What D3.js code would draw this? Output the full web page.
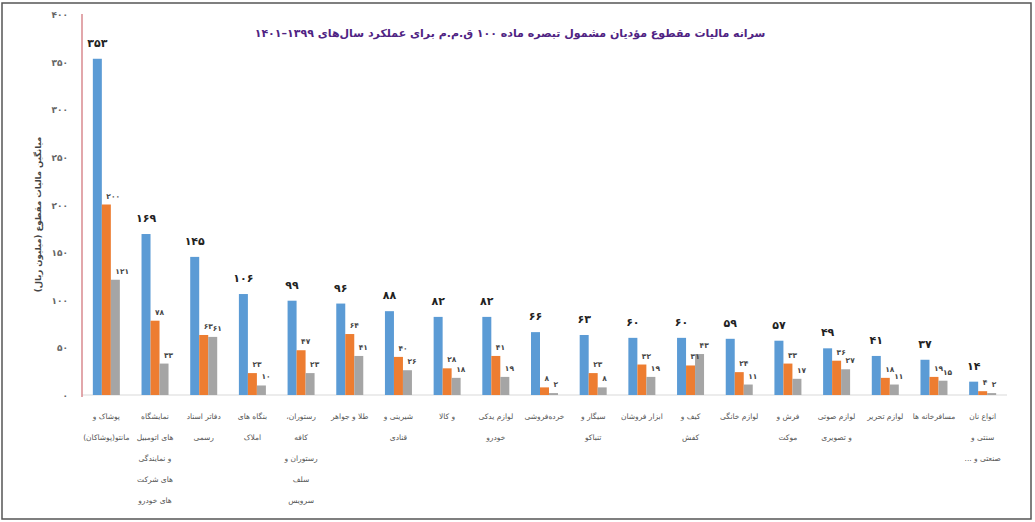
<!DOCTYPE html>
<html>
<head>
<meta charset="utf-8">
<script src="https://cdn.jsdelivr.net/npm/d3@7"></script>
<style>
  body { margin: 0; background: #fff; }
  svg text { font-family: "DejaVu Sans", sans-serif; }
</style>
</head>
<body>
<svg id="chart"></svg>
<script>
// Categories (multi-line labels split by |)
const categories = [
  "پوشاک و|مانتو(پوشاکان)",
  "نمایشگاه|های اتومبیل|و نمایندگی|های شرکت|های خودرو",
  "دفاتر اسناد|رسمی",
  "بنگاه های|املاک",
  "رستوران،|کافه|رستوران و|سلف|سرویس",
  "طلا و جواهر",
  "شیرینی و|قنادی",
  "و کالا",
  "لوازم یدکی|خودرو",
  "خرده‌فروشی",
  "سیگار و|تنباکو",
  "ابزار فروشان",
  "کیف و|کفش",
  "لوازم خانگی",
  "فرش و|موکت",
  "لوازم صوتی|و تصویری",
  "لوازم تحریر",
  "مسافرخانه ها",
  "انواع نان|سنتی و|صنعتی و ..."
];
const series1 = [353, 169, 145, 106, 99, 96, 88, 82, 82, 66, 63, 60, 60, 59, 57, 49, 41, 37, 14];
const series2 = [200, 78, 63, 23, 47, 64, 40, 28, 41, 8, 23, 32, 31, 24, 33, 36, 18, 19, 4];
const series3 = [121, 33, 61, 10, 23, 41, 26, 18, 19, 2, 8, 19, 43, 11, 17, 27, 11, 15, 2];
const yTicks = [0, 50, 100, 150, 200, 250, 300, 350, 400];
const seriesColors = ["#5b9bd5", "#ed7d31", "#a5a5a5"];

const titleText = "سرانه مالیات مقطوع مؤدیان مشمول تبصره ماده ۱۰۰ ق.م.م برای عملکرد سال‌های ۱۳۹۹–۱۴۰۱";
const yTitle = "میانگین مالیات مقطوع (میلیون ریال)";

const fa = n => String(n).replace(/\d/g, d => "۰۱۲۳۴۵۶۷۸۹"[d]);

const W = 1035, H = 522;
const svg = d3.select("#chart").attr("width", W).attr("height", H);

// outer frame
svg.append("rect")
  .attr("x", 2).attr("y", 3).attr("width", W - 6).attr("height", H - 6)
  .attr("fill", "#fff").attr("stroke", "#555").attr("stroke-width", 1.5);

const x0 = d3.scaleBand().domain(d3.range(categories.length)).range([82, 1007]);
const x1 = d3.scaleBand().domain([0, 1, 2]).range([0, 27]);
const y = d3.scaleLinear().domain([0, 400]).range([395, 14]);

// title
svg.append("text")
  .attr("x", 510).attr("y", 37)
  .attr("text-anchor", "middle")
  .attr("direction", "rtl")
  .attr("font-size", 11).attr("font-weight", "bold")
  .attr("fill", "#4f2383")
  .text(titleText);

// y ticks
svg.append("g").selectAll("text").data(yTicks).join("text")
  .attr("x", 68).attr("y", d => y(d) + 4)
  .attr("text-anchor", "end")
  .attr("font-size", 9).attr("font-weight", "bold")
  .attr("fill", "#666")
  .text(d => fa(d));

// y title
svg.append("text")
  .attr("transform", `translate(41,${y(200) + 10}) rotate(-90)`)
  .attr("text-anchor", "middle")
  .attr("direction", "rtl")
  .attr("font-size", 8.5).attr("font-weight", "bold")
  .attr("fill", "#444")
  .text(yTitle);

// baseline
svg.append("line")
  .attr("x1", 82).attr("x2", 1007).attr("y1", y(0)).attr("y2", y(0))
  .attr("stroke", "#d9d9d9");

// bars
const data = categories.map((c, i) => ({ i, vals: [series1[i], series2[i], series3[i]] }));
const groups = svg.append("g").selectAll("g").data(data).join("g")
  .attr("transform", d => `translate(${x0(d.i) + (x0.bandwidth() - 27) / 2},0)`);

groups.selectAll("rect").data(d => d.vals.map((v, k) => ({ v, k }))).join("rect")
  .attr("x", d => x1(d.k)).attr("width", x1.bandwidth())
  .attr("y", d => y(d.v)).attr("height", d => y(0) - y(d.v))
  .attr("fill", d => seriesColors[d.k]);

// blue value labels
groups.append("text")
  .attr("x", x1(0) + x1.bandwidth() / 2)
  .attr("y", d => y(d.vals[0]) - 12)
  .attr("text-anchor", "middle")
  .attr("font-size", 11).attr("font-weight", "bold")
  .attr("fill", "#222")
  .text(d => fa(d.vals[0]));

// orange / gray value labels
groups.selectAll("text.small").data(d => d.vals.slice(1).map((v, j) => ({ v, k: j + 1 }))).join("text")
  .attr("class", "small")
  .attr("x", d => x1(d.k) + x1.bandwidth() / 2)
  .attr("y", d => y(d.v) - 6)
  .attr("font-size", 7.5).attr("font-weight", "bold")
  .attr("fill", "#444")
  .text(d => fa(d.v));

// y axis line
svg.append("line")
  .attr("x1", 82).attr("x2", 82).attr("y1", 14).attr("y2", 397)
  .attr("stroke", "#d98a8f").attr("stroke-width", 1.5);

// category labels
const cat = svg.append("g").selectAll("text").data(categories).join("text")
  .attr("x", (d, i) => x0(i) + x0.bandwidth() / 2)
  .attr("y", 419)
  .attr("text-anchor", "middle")
  .attr("direction", "rtl")
  .attr("font-size", 7.5)
  .attr("fill", "#555");
cat.selectAll("tspan").data(d => d.split("|")).join("tspan")
  .attr("x", function () { return d3.select(this.parentNode).attr("x"); })
  .attr("dy", (d, i) => i === 0 ? 0 : 21)
  .text(d => d);
</script>
</body>
</html>
